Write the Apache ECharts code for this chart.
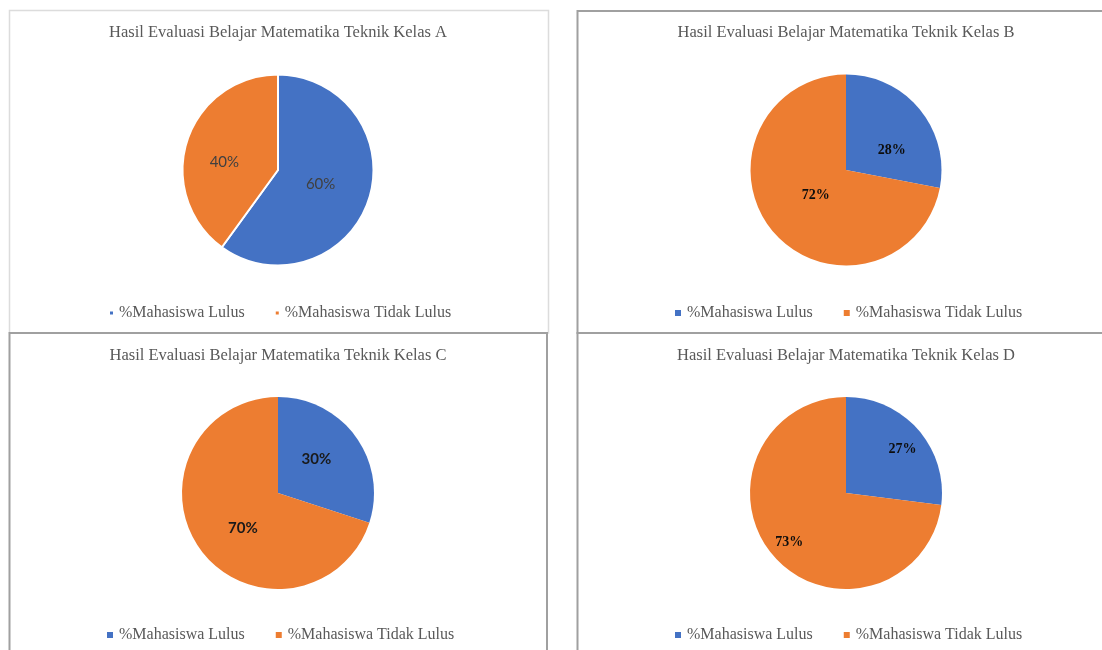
<!DOCTYPE html>
<html><head><meta charset="utf-8">
<script src="https://cdn.jsdelivr.net/npm/echarts@6/dist/echarts.min.js"></script>
<style>html,body{margin:0;padding:0;background:#fff}#c{width:1102px;height:650px}</style>
</head><body><div id="c"></div>
<script>
// ---- data ----
const categories = ['%Mahasiswa Lulus', '%Mahasiswa Tidak Lulus'];
const kelasNames = ['A', 'B', 'C', 'D'];
const kelasA = [60, 40];
const kelasB = [28, 72];
const kelasC = [30, 70];
const kelasD = [27, 73];
const titlePrefix = 'Hasil Evaluasi Belajar Matematika Teknik Kelas ';

// ---- style / layout ----
const colors = ['#4472C4', '#ED7D31'];
const serif = "'Liberation Serif', 'DejaVu Serif', serif";
const sans = "Lato, 'Open Sans', sans-serif";
const panels = [
  {values: kelasA, cx: 278, cy: 170, r: 95.5, titleY: 24, legendX: 108, legendY: 305, icon: 5, sep: true,
   frac: [0.46, 0.57], nudge: [[-2, 0], [1, 10]], lab: {fontFamily: sans, color: '#404040', fontSize: 15}},
  {values: kelasB, cx: 846, cy: 170, r: 95.5, titleY: 24, legendX: 673, legendY: 305, icon: 8, sep: false,
   frac: [0.51, 0.42], nudge: [[6, 13], [3, -2]], lab: {fontFamily: serif, color: '#0d0d0d', fontSize: 14, fontWeight: 'bold'}},
  {values: kelasC, cx: 278, cy: 493, r: 96, titleY: 347, legendX: 105, legendY: 627, icon: 8, sep: false,
   frac: [0.54, 0.51], nudge: [[-6, -2], [7, 5]], lab: {fontFamily: sans, color: '#1a1a1a', fontSize: 15, fontWeight: 'bold'}},
  {values: kelasD, cx: 846, cy: 493, r: 96, titleY: 347, legendX: 673, legendY: 627, icon: 8, sep: false,
   frac: [0.74, 0.77], nudge: [[1, 5], [1, -1]], lab: {fontFamily: serif, color: '#0d0d0d', fontSize: 14, fontWeight: 'bold'}}
];

const titles = [], legends = [], series = [];
panels.forEach((p, k) => {
  titles.push({
    text: titlePrefix + kelasNames[k], left: p.cx, top: p.titleY, textAlign: 'center', padding: 0,
    textStyle: {fontFamily: serif, fontSize: 16.5, fontWeight: 'normal', color: '#595959'}
  });
  legends.push({
    data: categories.map((c, i) => ({name: c, itemStyle: {color: colors[i]}})),
    left: p.legendX, top: p.legendY, padding: 0, itemGap: 29,
    itemWidth: p.icon, itemHeight: p.icon, icon: 'rect', selectedMode: false,
    textStyle: {fontFamily: serif, fontSize: 16, color: '#595959'}
  });
  series.push({
    type: 'pie', center: [p.cx, p.cy], radius: [0, p.r], startAngle: 90, clockwise: true,
    silent: true, label: {show: false}, labelLine: {show: false},
    itemStyle: {borderColor: '#fff', borderWidth: p.sep ? 2 : 0},
    data: categories.map((c, i) => ({name: c, value: p.values[i], itemStyle: {color: colors[i]}}))
  });
  // transparent label carriers, one per slice, to place each label at its own radius
  categories.forEach((c, j) => {
    const rr = p.r * p.frac[j];
    series.push({
      type: 'pie', center: [p.cx, p.cy], radius: [rr - 1, rr + 1], startAngle: 90, clockwise: true,
      silent: true, labelLine: {show: false}, legendHoverLink: false,
      itemStyle: {color: 'rgba(0,0,0,0)', borderWidth: 0},
      labelLayout: () => ({dx: p.nudge[j][0], dy: p.nudge[j][1]}),
      data: categories.map((cc, i) => ({
        name: cc, value: p.values[i],
        label: {show: i === j, position: 'inside', formatter: '{c}%', ...p.lab}
      }))
    });
  });
});

const chart = echarts.init(document.getElementById('c'), null, {renderer: 'canvas'});
chart.setOption({
  animation: false,
  backgroundColor: '#fff',
  title: titles,
  legend: legends,
  series: series,
  graphic: [
    {type: 'rect', shape: {x: 9.5, y: 10.5, width: 539, height: 322.5}, style: {fill: 'none', stroke: '#dcdcdc', lineWidth: 1.5}, silent: true},
    {type: 'rect', shape: {x: 577.5, y: 11, width: 540, height: 322}, style: {fill: 'none', stroke: '#a0a0a0', lineWidth: 2}, silent: true},
    {type: 'rect', shape: {x: 9.5, y: 333, width: 537.5, height: 330}, style: {fill: 'none', stroke: '#a0a0a0', lineWidth: 2}, silent: true},
    {type: 'rect', shape: {x: 577.5, y: 333, width: 540, height: 330}, style: {fill: 'none', stroke: '#a0a0a0', lineWidth: 2}, silent: true}
  ]
});
</script>
</body></html>
